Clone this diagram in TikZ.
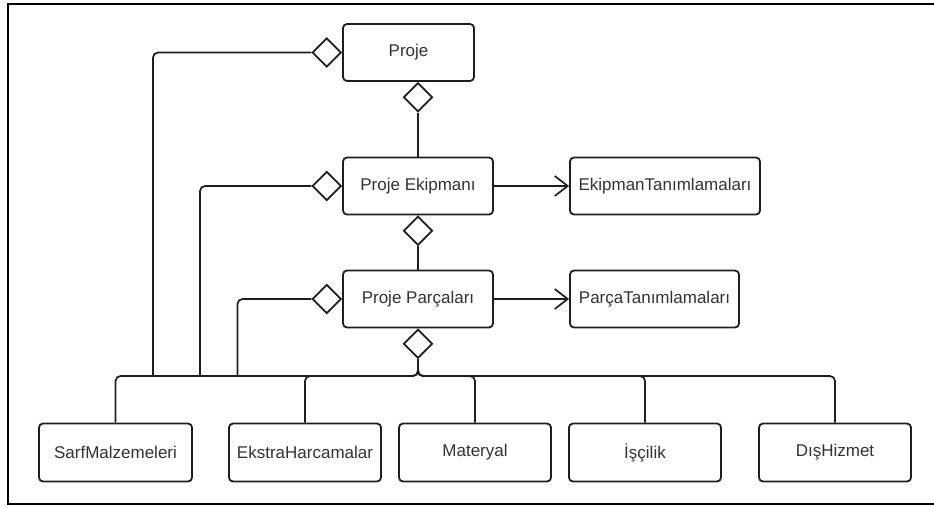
\documentclass[tikz,border=0pt]{standalone}
\usepackage{fontspec}
\setmainfont{Liberation Sans}
\usetikzlibrary{shapes.geometric,arrows.meta}
\definecolor{ink}{HTML}{1e1e1e}
\definecolor{txt}{HTML}{333333}

\begin{document}
\begin{tikzpicture}[x=1pt,y=-1pt,
  box/.style={draw=ink, line width=1.8pt, rounded corners=4pt, fill=white,
    minimum height=57pt, inner sep=0pt, text=txt,
    font=\fontsize{17}{20}\selectfont},
  agg/.style={shape=diamond, draw=ink, line width=1.7pt, fill=white,
    minimum width=29pt, minimum height=29pt, inner sep=0pt},
  link/.style={draw=ink, line width=1.7pt, rounded corners=5pt},
  assoc/.style={draw=ink, line width=1.7pt,
    -{Straight Barb[length=13pt,width=20pt]}},
  frame/.style={draw=black, line width=2.2pt}]

\useasboundingbox (0,0) rectangle (934,507);

% outer frame
\draw[frame] (934,4) -- (8,4) -- (8,504) -- (934,504);

% main chain
\node[box, minimum width=131pt] (proje)    at (408.5,52.5) {Proje};
\node[box, minimum width=150pt] (ekip)     at (418,186)    {Proje Ekipmanı};
\node[box, minimum width=150pt] (parca)    at (418,299)    {Proje Parçaları};
\node[box, minimum width=190pt] (ekiptan)  at (665,186)    {EkipmanTanımlamaları};
\node[box, minimum width=169pt] (parcatan) at (654.5,299)  {ParçaTanımlamaları};

% leaf classes
\node[box, minimum width=153pt, minimum height=58pt] (sarf)   at (115.5,452.5) {SarfMalzemeleri};
\node[box, minimum width=152pt, minimum height=58pt] (ekstra) at (305,452.5)   {EkstraHarcamalar};
\node[box, minimum width=152pt, minimum height=58pt] (mat)    at (475,452.5)   {Materyal};
\node[box, minimum width=152pt, minimum height=58pt] (iscilik) at (645,452.5)  {İşçilik};
\node[box, minimum width=152pt, minimum height=58pt] (dis)    at (835,452.5)   {DışHizmet};

% aggregation diamonds
\node[agg, anchor=east]  (dProjeL) at (proje.west) {};
\node[agg, anchor=north] (dProjeB) at (proje.south -| ekip.north) {};
\node[agg, anchor=east]  (dEkipL)  at (ekip.west) {};
\node[agg, anchor=north] (dEkipB)  at (ekip.south) {};
\node[agg, anchor=east]  (dParcaL) at (parca.west) {};
\node[agg, anchor=north] (dParcaB) at (parca.south) {};

% bus junctions
\coordinate (hub) at (418,376);
\coordinate (j1) at (153,376);
\coordinate (j2) at (200,376);
\coordinate (j3) at (237.5,376);

% aggregations down the chain
\draw[link] (dProjeB.south) -- (ekip.north);
\draw[link] (dEkipB.south) -- (parca.north);

% side aggregations into the bus
\draw[link] (dProjeL.west) -| (j1);
\draw[link] (dEkipL.west) -| (j2);
\draw[link] (dParcaL.west) -| (j3);

% bus to the leaf classes
\draw[link] (dParcaB.south) -- (hub) -| (sarf.north);
\draw[link] (dParcaB.south) -- (hub) -| (ekstra.north);
\draw[link] (dParcaB.south) -- (hub) -| (mat.north);
\draw[link] (dParcaB.south) -- (hub) -| (iscilik.north);
\draw[link] (dParcaB.south) -- (hub) -| (dis.north);

% associations
\draw[assoc] (ekip.east) -- (ekiptan.west);
\draw[assoc] (parca.east) -- (parcatan.west);

\end{tikzpicture}
\end{document}
